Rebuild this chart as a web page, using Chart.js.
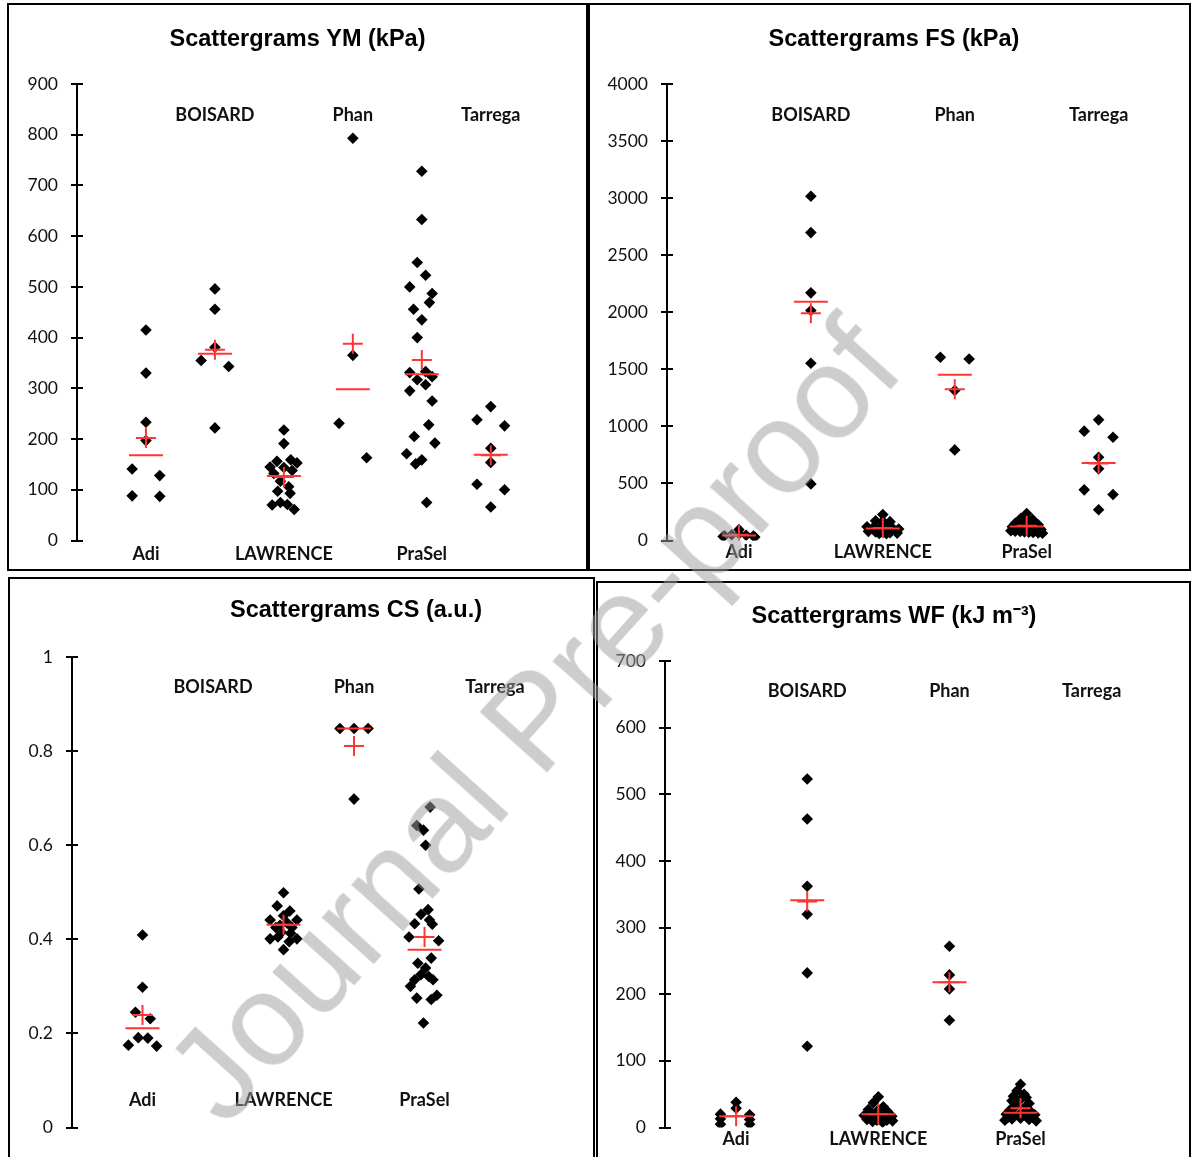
<!DOCTYPE html>
<html><head><meta charset="utf-8">
<script src="https://cdn.jsdelivr.net/npm/chart.js@4.4.1/dist/chart.umd.min.js"></script>
<style>
html,body{margin:0;padding:0;background:#fff;width:1191px;height:1157px;overflow:hidden;position:relative}
.frame{position:absolute;border:2px solid #000;box-sizing:border-box}
canvas{position:absolute}
#wm{position:absolute;left:533px;top:720px;transform:translate(-50%,-50%) rotate(-48deg);font:132px 'Liberation Sans',Arial,sans-serif;color:rgba(160,160,160,0.52);white-space:nowrap;line-height:1;pointer-events:none}
</style></head><body>
<div class="frame" style="left:7px;top:3px;width:581px;height:568px"></div>
<div class="frame" style="left:588px;top:3px;width:603px;height:568px"></div>
<div class="frame" style="left:8px;top:577px;width:587px;height:600px"></div>
<div class="frame" style="left:596px;top:581px;width:595px;height:600px"></div>
<canvas id="c1" width="579" height="566" style="left:8px;top:4px"></canvas>
<canvas id="c2" width="594" height="566" style="left:597px;top:4px"></canvas>
<canvas id="c3" width="694" height="579" style="left:9px;top:578px"></canvas>
<canvas id="c4" width="594" height="575" style="left:597px;top:582px"></canvas>
<div id="wm">Journal Pre-proof</div>
<script>
// ---------- DATA ----------
const categories = ['Adi', 'BOISARD', 'LAWRENCE', 'Phan', 'PraSel', 'Tarrega'];

// YM (kPa)
const ymValues = [
  [415, 330, 233, 197, 141, 128, 88, 87],
  [496, 456, 381, 355, 343, 222],
  [218, 191, 156, 145, 159, 153, 144, 132, 138, 117, 106, 97, 93, 70, 75, 71, 61],
  [793, 365, 231, 163],
  [728, 633, 548, 523, 500, 487, 469, 456, 435, 400, 333, 331, 323, 317, 307, 295, 275, 228, 205, 192, 171, 159, 151, 75],
  [264, 238, 226, 182, 154, 111, 100, 66]
];
const ymJitter = [
  [0, 0, 0, 0, -0.2, 0.2, -0.2, 0.2],
  [0, 0, 0, -0.2, 0.2, 0],
  [0, 0, -0.1, -0.2, 0.1, 0.19, 0, -0.145, 0.12, -0.05, 0.07, -0.09, 0.09, -0.17, -0.05, 0.05, 0.15],
  [0, 0, -0.2, 0.2],
  [0, 0, -0.066, 0.055, -0.175, 0.15, 0.11, -0.12, 0, -0.066, 0.055, -0.175, 0.15, -0.066, 0.055, -0.175, 0.15, 0.1, -0.11, 0.19, -0.22, 0, -0.09, 0.07],
  [0, -0.2, 0.2, 0, 0, -0.2, 0.2, 0]
];
const ymMeans = [202, 376, 125, 388, 356, 168];
const ymMedians = [168, 368, 127, 298, 328, 169];
const ymTicks = [0, 100, 200, 300, 400, 500, 600, 700, 800, 900];

// FS (kPa)
const fsValues = [
  [95, 60, 50, 45, 42, 40, 35, 30],
  [3016, 2698, 2170, 2015, 1553, 496],
  [227, 172, 168, 165, 120, 115, 112, 108, 105, 100, 80, 75, 72, 68, 65, 62, 60],
  [1606, 1591, 1314, 794],
  [236, 195, 190, 185, 150, 147, 144, 141, 138, 120, 116, 112, 108, 104, 100, 96, 85, 82, 79, 76, 73, 70, 67, 64],
  [1057, 958, 905, 730, 628, 444, 403, 269]
];
const fsJitter = [
  [0, 0, -0.1, 0.1, -0.2, 0.2, -0.22, 0.22],
  [0, 0, 0, 0, 0, 0],
  [0, -0.1, 0, 0.1, -0.22, -0.13, -0.04, 0.05, 0.14, 0.22, -0.2, -0.1, 0, 0.1, 0.2, -0.05, 0.05],
  [-0.2, 0.2, 0, 0],
  [0, -0.08, 0, 0.08, -0.16, -0.08, 0, 0.08, 0.16, -0.2, -0.13, -0.07, 0, 0.07, 0.13, 0.2, -0.22, -0.16, -0.09, -0.03, 0.03, 0.09, 0.16, 0.22],
  [0, -0.2, 0.2, 0, 0, -0.2, 0.2, 0]
];
const fsMeans = [50, 1991, 110, 1326, 130, 674];
const fsMedians = [44, 2092, 105, 1452, 122, 679];
const fsTicks = [0, 500, 1000, 1500, 2000, 2500, 3000, 3500, 4000];

// CS (a.u.)
const csValues = [
  [0.409, 0.298, 0.245, 0.231, 0.191, 0.190, 0.175, 0.173],
  [],
  [0.499, 0.471, 0.460, 0.450, 0.441, 0.441, 0.435, 0.430, 0.425, 0.425, 0.415, 0.413, 0.405, 0.401, 0.401, 0.395, 0.378],
  [0.848, 0.848, 0.848, 0.698],
  [0.681, 0.642, 0.632, 0.600, 0.507, 0.463, 0.453, 0.441, 0.433, 0.432, 0.405, 0.397, 0.360, 0.349, 0.339, 0.325, 0.321, 0.314, 0.314, 0.300, 0.281, 0.275, 0.272, 0.222],
  []
];
const csJitter = [
  [0, 0, -0.1, 0.11, -0.06, 0.075, -0.2, 0.2],
  [],
  [0, -0.09, 0.09, 0, -0.19, 0.19, 0.05, -0.05, -0.11, 0.12, -0.03, 0.1, -0.08, -0.19, 0.19, 0.08, 0],
  [-0.2, 0, 0.2, 0],
  [0.08, -0.11, -0.015, 0.015, -0.08, 0.05, -0.05, 0.07, -0.14, 0.11, -0.22, 0.2, 0.095, -0.095, 0.015, -0.05, 0.06, -0.14, 0.12, -0.2, 0.175, -0.11, 0.095, -0.015],
  []
];
const csMeans = [0.239, null, 0.431, 0.811, 0.405, null];
const csMedians = [0.211, null, 0.431, 0.848, 0.378, null];
const csTicks = [0, 0.2, 0.4, 0.6, 0.8, 1];

// WF (kJ m-3)
const wfValues = [
  [38, 29, 20, 13, 5, 19, 12, 5],
  [523, 463, 362, 320, 232, 122],
  [46, 37, 31, 27, 26, 25, 20, 18, 17, 17, 16, 12, 11, 11, 10, 9, 8],
  [272, 229, 208, 161],
  [65, 55, 50, 47, 45, 42, 40, 36, 33, 30, 26, 23, 21, 20, 19, 18, 17, 16, 15, 14, 13, 12, 11, 10],
  []
];
const wfJitter = [
  [0, 0, -0.22, -0.22, -0.22, 0.19, 0.19, 0.19],
  [0, 0, 0, 0, 0, 0],
  [0, -0.07, 0.07, -0.14, 0, 0.12, -0.05, -0.2, 0.05, 0.19, -0.1, -0.16, -0.02, 0.12, 0.2, -0.08, 0.06],
  [0, 0, 0, 0],
  [0, -0.05, 0.05, -0.1, 0.08, 0, -0.12, 0.12, -0.06, 0.06, -0.15, 0.15, 0, -0.2, 0.2, -0.08, 0.08, -0.17, 0.17, 0, -0.12, 0.12, -0.22, 0.22],
  []
];
const wfMeans = [17, 339, 20, 218, 29, null];
const wfMedians = [17, 341, 20, 218, 22, null];
const wfTicks = [0, 100, 200, 300, 400, 500, 600, 700];

// ---------- RENDERING ----------
Chart.defaults.font.family = 'Lato, "Open Sans", sans-serif';
Chart.defaults.color = '#111';
const RED = '#ff3535';

const panelPlugin = {
  id: 'panelDecor',
  afterDraw(chart, args, opts) {
    const ctx = chart.ctx, xs = chart.scales.x, ys = chart.scales.y;
    const x0 = chart.chartArea.left;
    ctx.save();
    ctx.strokeStyle = '#000';
    ctx.lineWidth = 2;
    ys.ticks.forEach(t => {
      const py = Math.round(ys.getPixelForValue(t.value));
      ctx.beginPath();
      ctx.moveTo(x0 - 6, py);
      ctx.lineTo(x0 + 6, py);
      ctx.stroke();
    });
    ctx.fillStyle = '#111';
    ctx.font = 'bold 18px Lato, "Open Sans", sans-serif';
    ctx.textAlign = 'center';
    ctx.textBaseline = 'middle';
    categories.forEach((c, i) => {
      const v = (i % 2 === 0) ? opts.bottom : opts.top;
      ctx.fillText(c, xs.getPixelForValue(i + 1), ys.getPixelForValue(v));
    });
    ctx.restore();
  }
};

function makePanel(id, p) {
  const pts = [];
  p.values.forEach((arr, i) => arr.forEach((v, j) => pts.push({x: i + 1 + p.jitter[i][j], y: v})));
  const means = [], meds = [];
  p.means.forEach((v, i) => { if (v !== null) means.push({x: i + 1, y: v}); });
  p.medians.forEach((v, i) => { if (v !== null) meds.push({x: i + 1, y: v}); });
  new Chart(document.getElementById(id), {
    type: 'scatter',
    data: {
      datasets: [
        {data: means, order: 1, pointStyle: 'cross', pointRadius: 10, borderColor: RED, borderWidth: 2, backgroundColor: RED},
        {data: meds, order: 2, pointStyle: 'line', pointRadius: 17, borderColor: RED, borderWidth: 2, backgroundColor: RED},
        {data: pts, order: 3, pointStyle: 'rectRot', pointRadius: 5.8, backgroundColor: '#000', borderColor: '#000', borderWidth: 0}
      ]
    },
    options: {
      responsive: false,
      animation: false,
      devicePixelRatio: 1,
      events: [],
      layout: {padding: {left: 0, right: 0, top: 0, bottom: p.padBottom}},
      plugins: {
        legend: {display: false},
        tooltip: {enabled: false},
        title: {
          display: true, text: p.title, color: '#000',
          font: {family: '"Liberation Sans", Arial, sans-serif', size: 23.5, weight: 'bold', lineHeight: 1.2},
          padding: {top: p.titleTop, bottom: p.titleBottom}
        },
        panelDecor: {top: p.labelTop, bottom: p.labelBottom}
      },
      scales: {
        x: {type: 'linear', display: false, min: 0, max: p.xMax},
        y: {
          type: 'linear', min: 0, max: p.ticks[p.ticks.length - 1],
          afterBuildTicks: s => { s.ticks = p.ticks.map(v => ({value: v})); },
          afterFit: s => { s.width = p.axisW; },
          grid: {drawOnChartArea: false, drawTicks: false},
          border: {display: true, color: '#000', width: 2},
          ticks: {padding: 19, color: '#111', font: {size: 17.5}, callback: v => String(v)}
        }
      }
    },
    plugins: [panelPlugin]
  });
}

makePanel('c1', {title: 'Scattergrams YM (kPa)', values: ymValues, jitter: ymJitter, means: ymMeans, medians: ymMedians, ticks: ymTicks,
  axisW: 69, xMax: 7.12, padBottom: 29, titleTop: 21.4, titleBottom: 30.4, labelTop: 839, labelBottom: -26});
makePanel('c2', {title: 'Scattergrams FS (kPa)', values: fsValues, jitter: fsJitter, means: fsMeans, medians: fsMedians, ticks: fsTicks,
  axisW: 70, xMax: 7.02, padBottom: 29, titleTop: 21.4, titleBottom: 30.4, labelTop: 3729, labelBottom: -105});
makePanel('c3', {title: 'Scattergrams CS (a.u.)', values: csValues, jitter: csJitter, means: csMeans, medians: csMedians, ticks: csTicks,
  axisW: 63, xMax: 8.68, padBottom: 24, titleTop: 18.4, titleBottom: 32.4, labelTop: 0.935, labelBottom: 0.057});
makePanel('c4', {title: 'Scattergrams WF (kJ m\u207B\u00B3)', values: wfValues, jitter: wfJitter, means: wfMeans, medians: wfMedians, ticks: wfTicks,
  axisW: 68, xMax: 7.13, padBottom: 23, titleTop: 20.4, titleBottom: 30.4, labelTop: 654, labelBottom: -18});
</script>
</body></html>
